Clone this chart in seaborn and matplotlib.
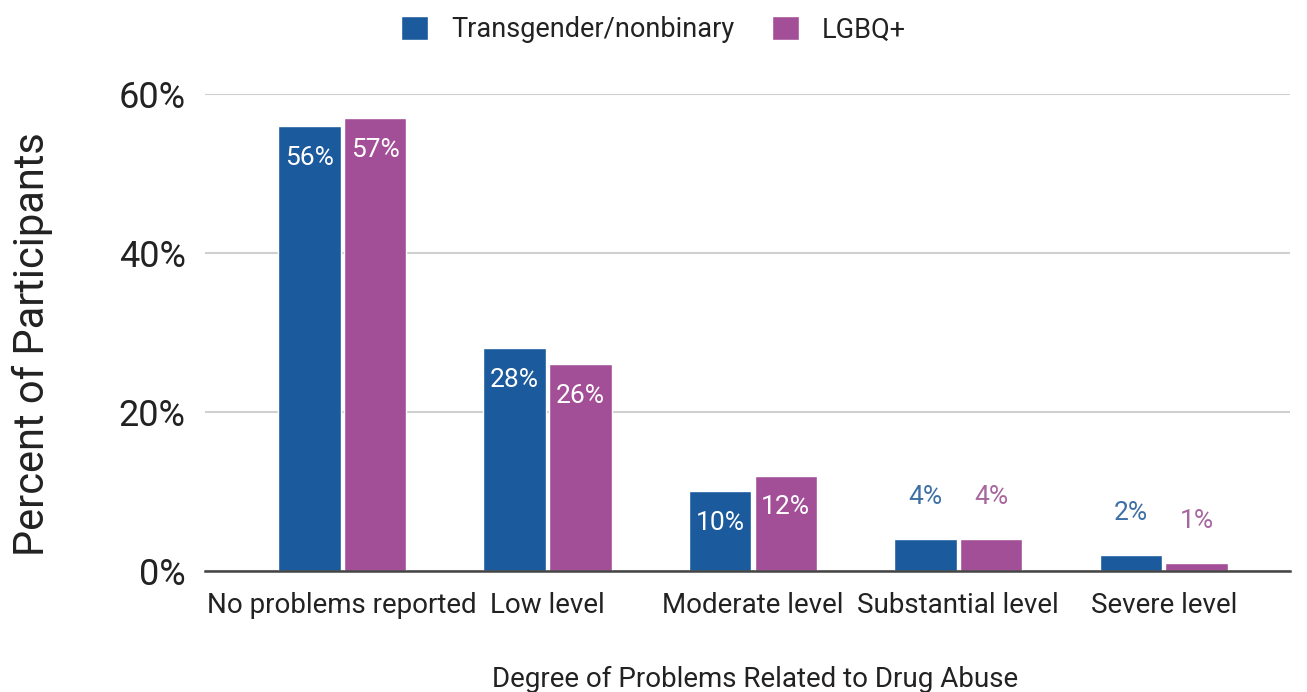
import matplotlib
matplotlib.use("Agg")
import matplotlib.pyplot as plt
import seaborn as sns
import pandas as pd

# data
levels = ["No problems reported", "Low level", "Moderate level",
          "Substantial level", "Severe level"]
trans_nb = [56, 28, 10, 4, 2]
lgbq = [57, 26, 12, 4, 1]
groups = ["Transgender/nonbinary", "LGBQ+"]
yticks = [0, 20, 40, 60]

colors = ["#1b5a9c", "#a34f97"]
label_colors = ["#3e6fa5", "#a866a0"]
text_col = "#222222"

df = pd.DataFrame({
    "level": levels * 2,
    "group": [groups[0]] * len(levels) + [groups[1]] * len(levels),
    "pct": trans_nb + lgbq,
})

sns.set_theme(style="white")
plt.rcParams["font.family"] = ["Roboto", "DejaVu Sans"]

fig = plt.figure(figsize=(13.07, 6.92), dpi=100)
ax = fig.add_axes([0.157, 0.175, 0.83, 0.689])

sns.barplot(data=df, x="level", y="pct", hue="group", order=levels,
            hue_order=groups, palette=colors, width=0.64, gap=0.05,
            saturation=1, ax=ax, legend=True)

ax.set_ylim(0, 60)
ax.set_xlim(-0.667, 4.615)
ax.set_yticks(yticks)
ax.set_yticklabels([f"{v}%" for v in yticks])
ax.yaxis.grid(True, color="#d0d0d0", linewidth=1.5)
ax.set_axisbelow(True)
for s in ["top", "right", "left"]:
    ax.spines[s].set_visible(False)
ax.spines["bottom"].set_color("#444444")
ax.spines["bottom"].set_linewidth(1.8)
ax.spines["bottom"].set_zorder(5)

ax.tick_params(axis="y", length=0, pad=14, labelsize=26, labelcolor=text_col)
ax.tick_params(axis="x", length=0, pad=15, labelsize=20, labelcolor=text_col)

ax.set_ylabel("Percent of Participants", fontsize=30, color=text_col)
ax.yaxis.set_label_coords(-0.140, 0.475)
ax.set_xlabel("Degree of Problems Related to Drug Abuse", fontsize=20,
              color=text_col)
ax.xaxis.set_label_coords(0.507, -0.2)

# value labels: inside the bar for tall bars, above it for short ones
for i, cont in enumerate(ax.containers):
    for bar in cont:
        h = bar.get_height()
        x = bar.get_x() + bar.get_width() / 2
        if h >= 8:
            ax.annotate(f"{h:.0f}%", (x, h), xytext=(0, -23),
                        textcoords="offset points", ha="center", va="center",
                        fontsize=19, color="white")
        else:
            ax.annotate(f"{h:.0f}%", (x, h), xytext=(0, 30.5),
                        textcoords="offset points", ha="center", va="center",
                        fontsize=19, color=label_colors[i])

handles, labels = ax.get_legend_handles_labels()
ax.get_legend().remove()
fig.legend(handles, labels, loc="center", bbox_to_anchor=(0.5, 0.957),
           ncol=2, frameon=False, fontsize=19.5, handlelength=1.0,
           handleheight=1.0, handletextpad=0.85, columnspacing=1.4,
           labelcolor=text_col)

fig.savefig("out.png", dpi=100, facecolor="white")
